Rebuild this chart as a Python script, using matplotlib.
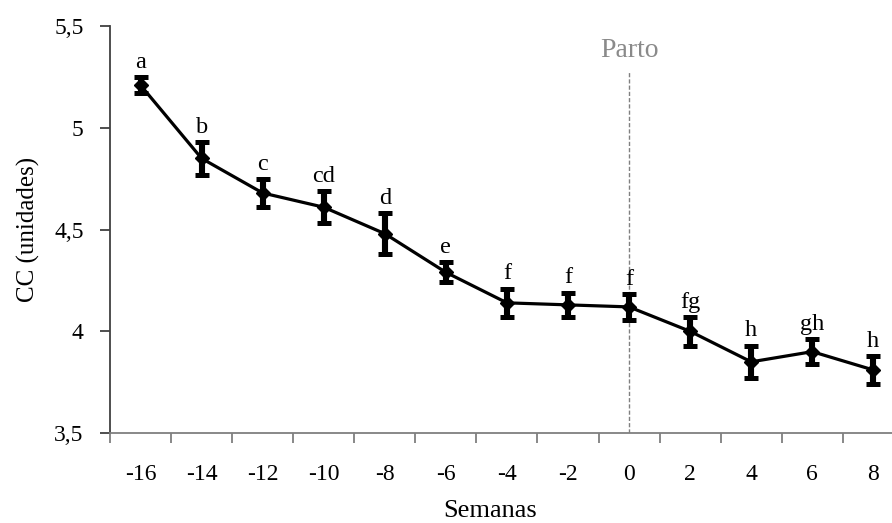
import matplotlib

matplotlib.use("Agg")
import matplotlib.pyplot as plt
import numpy as np
from matplotlib.ticker import FixedLocator, FuncFormatter

plt.rcParams["font.family"] = ["Liberation Serif", "DejaVu Serif"]

semanas = [-16, -14, -12, -10, -8, -6, -4, -2, 0, 2, 4, 6, 8]
cc = [5.21, 4.85, 4.68, 4.61, 4.48, 4.29, 4.14, 4.13, 4.12, 4.00, 3.85, 3.90, 3.81]
err = [0.04, 0.08, 0.07, 0.08, 0.10, 0.05, 0.07, 0.06, 0.065, 0.07, 0.08, 0.06, 0.07]
letras = ["a", "b", "c", "cd", "d", "e", "f", "f", "f", "fg", "h", "gh", "h"]
parto_semana = 0
parto_top = 5.28

x = np.arange(len(semanas))
fig = plt.figure(figsize=(8.92, 5.23), dpi=100)
ax = fig.add_axes([0.1233, 0.172, 0.890, 0.778])

ax.errorbar(x, cc, yerr=err, color="black", lw=2.3, marker="D", ms=7,
            elinewidth=4.4, capsize=5.2, capthick=3.6, zorder=3)
for xi, yi, ei, lab in zip(x, cc, err, letras):
    ax.annotate(lab, (xi, yi + ei), xytext=(0, 3), textcoords="offset points",
                ha="center", va="bottom", fontsize=17.5)

xp = semanas.index(parto_semana)
ax.plot([xp, xp], [3.5, parto_top], color="#808080", lw=1.0, ls=(0, (3, 1.5)), zorder=1)
ax.text(xp, parto_top + 0.04, "Parto", color="#8a8a8a", ha="center", va="bottom", fontsize=20)

ax.set_xlim(-0.5, len(semanas) - 0.5)
ax.set_ylim(3.5, 5.5)
ax.set_xticks(x)
ax.set_xticklabels([str(s) for s in semanas])
ax.xaxis.set_minor_locator(FixedLocator(np.arange(-0.5, len(semanas), 1.0)))
ax.tick_params(axis="x", which="major", length=0, pad=22, labelsize=17)
ax.tick_params(axis="x", which="minor", length=7, width=1.3, color="#7f7f7f")
ax.set_yticks([3.5, 4, 4.5, 5, 5.5])
ax.yaxis.set_major_formatter(FuncFormatter(lambda v, p: f"{v:g}".replace(".", ",")))
ax.tick_params(axis="y", length=7, width=1.3, color="#404040", labelsize=17, pad=12)

for s in ("top", "right"):
    ax.spines[s].set_visible(False)
ax.spines["left"].set_color("#404040")
ax.spines["left"].set_linewidth(1.3)
ax.spines["bottom"].set_color("#7f7f7f")
ax.spines["bottom"].set_linewidth(1.3)

ax.set_xlabel("Semanas", fontsize=19)
ax.xaxis.set_label_coords(0.479, -0.165)
ax.set_ylabel("CC (unidades)", fontsize=18, labelpad=10)

fig.savefig("out.png", dpi=100)
